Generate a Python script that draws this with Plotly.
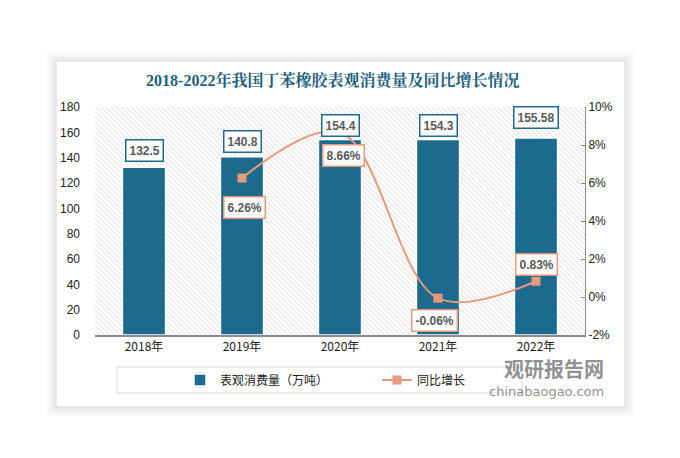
import plotly.graph_objects as go
import base64

years = ["2018年", "2019年", "2020年", "2021年", "2022年"]
consumption = [132.5, 140.8, 154.4, 154.3, 155.58]
consumption_text = ["132.5", "140.8", "154.4", "154.3", "155.58"]
growth = [None, 6.26, 8.66, -0.06, 0.83]
growth_text = ["", "6.26%", "8.66%", "-0.06%", "0.83%"]
left_ticks = [0, 20, 40, 60, 80, 100, 120, 140, 160, 180]
right_ticks = [-2, 0, 2, 4, 6, 8, 10]

BAR = "#1c6a8d"
ORANGE = "#e9987a"
TXT = "#595959"

OFF = 8  # page body margin
W, H = 680, 458
PW, PH = 490, 228
L, T = 95 - OFF, 107 - OFF
R, B = W - L - PW, H - T - PH

def px(x):
    return (x - OFF - L) / PW

def py(y):
    return (T + PH - (y - OFF)) / PH

# hatch background image
svg = f'''<svg xmlns="http://www.w3.org/2000/svg" width="{PW}" height="{PH}" viewBox="0 0 {PW} {PH}" preserveAspectRatio="none">
<defs><pattern id="p" width="3.6" height="3.6" patternUnits="userSpaceOnUse" patternTransform="rotate(-45)">
<rect width="4" height="4" fill="white"/><line x1="0" y1="0" x2="0" y2="4" stroke="#cbcbcb" stroke-width="1"/></pattern></defs>
<rect width="{PW}" height="{PH}" fill="url(#p)"/></svg>'''
svg_uri = "data:image/svg+xml;base64," + base64.b64encode(svg.encode()).decode()

fig = go.Figure()
fig.add_trace(go.Bar(
    x=years, y=consumption, name="表观消费量（万吨）",
    marker=dict(color=BAR, line=dict(color="white", width=1.5)),
    width=0.44, yaxis="y",
))
fig.add_trace(go.Scatter(
    x=years, y=growth, name="同比增长", mode="lines+markers",
    line=dict(color=ORANGE, width=2, shape="spline", smoothing=1.0),
    marker=dict(symbol="square", size=9, color=ORANGE),
    yaxis="y2", connectgaps=False,
))

bar_shift = [17, 15, 14, 14, 20]
for x, v, t, s in zip(years, consumption, consumption_text, bar_shift):
    fig.add_annotation(x=x, y=v, xref="x", yref="y", text=f"<b>{t}</b>", showarrow=False,
                       yshift=s, bgcolor="white", bordercolor=BAR, borderwidth=1.5, borderpad=3,
                       font=dict(family="Liberation Sans", size=12, color=TXT))

growth_shift = [0, -29, -23, -22, 17]
growth_xshift = [0, 2, 3, -4, 0]
for x, v, t, s, xs in zip(years, growth, growth_text, growth_shift, growth_xshift):
    if v is None:
        continue
    fig.add_annotation(x=x, y=v, xref="x", yref="y2", text=f"<b>{t}</b>", showarrow=False,
                       yshift=s, xshift=xs, bgcolor="white", bordercolor=ORANGE, borderwidth=1.5, borderpad=3,
                       font=dict(family="Liberation Sans", size=12, color=TXT))

# watermark
fig.add_annotation(xref="paper", yref="paper", x=px(606), y=py(368), xanchor="right", yanchor="middle",
                   text="<b>观研报告网</b>", showarrow=False,
                   font=dict(family="Noto Sans CJK SC", size=20, color="rgba(115,115,115,0.8)"))
fig.add_annotation(xref="paper", yref="paper", x=px(606), y=py(391), xanchor="right", yanchor="middle",
                   text="chinabaogao.com", showarrow=False,
                   font=dict(family="DejaVu Sans", size=13, color="rgba(115,115,115,0.8)"))

shapes = []
# card shadow
card = (55, 62, 622, 403)
shades = ["#e4e4e4", "#ececec", "#f3f3f3", "#f9f9f9"]
for i, c in enumerate(shades):
    d = 1.5 + i * 2.5
    shapes.append(dict(type="rect", xref="paper", yref="paper", layer="below",
                       x0=px(card[0] - d + 2), x1=px(card[2] + d + 2),
                       y0=py(card[3] + d + 3), y1=py(card[1] - d),
                       line=dict(color=c, width=2.5), fillcolor="rgba(0,0,0,0)"))
# legend box
shapes.append(dict(type="rect", xref="paper", yref="paper", layer="below",
                   x0=px(117), x1=px(522), y0=py(393), y1=py(367),
                   line=dict(color="#d9d9d9", width=1), fillcolor="rgba(0,0,0,0)"))

fig.update_layout(
    width=W, height=H,
    margin=dict(l=L, r=R, t=T, b=B),
    paper_bgcolor="white", plot_bgcolor="rgba(0,0,0,0)",
    barmode="overlay",
    title=dict(text="<b>2018-2022年我国丁苯橡胶表观消费量及同比增长情况</b>",
               x=px(329), xanchor="center", y=py(80) * PH / H + B / H, yanchor="middle",
               font=dict(family="Liberation Serif, Noto Serif CJK SC, Noto Sans CJK SC", size=16, color="#1f5f7e")),
    xaxis=dict(type="category", showgrid=False, showline=True, linecolor="#8c8c8c", linewidth=1.5,
               ticks="", tickfont=dict(family="Noto Sans CJK SC", size=12, color="#222"), range=[-0.5, 4.5]),
    yaxis=dict(range=[0, 180], tickvals=left_ticks, showgrid=False, zeroline=False, showline=False,
               ticks="", ticklabelstandoff=14,
               tickfont=dict(family="Liberation Sans", size=12, color="#222")),
    yaxis2=dict(range=[-2, 10], tickvals=right_ticks, ticktext=[f"{v}%" for v in right_ticks],
                overlaying="y", side="right", showgrid=False, zeroline=False,
                showline=True, linecolor="#8c8c8c", linewidth=1, ticks="inside", ticklen=4, tickcolor="#8c8c8c",
                tickfont=dict(family="Liberation Sans", size=12, color="#222")),
    legend=dict(orientation="h", x=px(180), y=py(380), xanchor="left", yanchor="middle",
                bgcolor="rgba(0,0,0,0)", entrywidth=152, entrywidthmode="pixels",
                font=dict(family="Noto Sans CJK SC", size=12, color="#222")),
    showlegend=True,
    images=[dict(source=svg_uri, xref="paper", yref="paper", x=0, y=1, sizex=1, sizey=1,
                 xanchor="left", yanchor="top", sizing="stretch", layer="below")],
    shapes=shapes,
)

fig.write_html("out.html")
